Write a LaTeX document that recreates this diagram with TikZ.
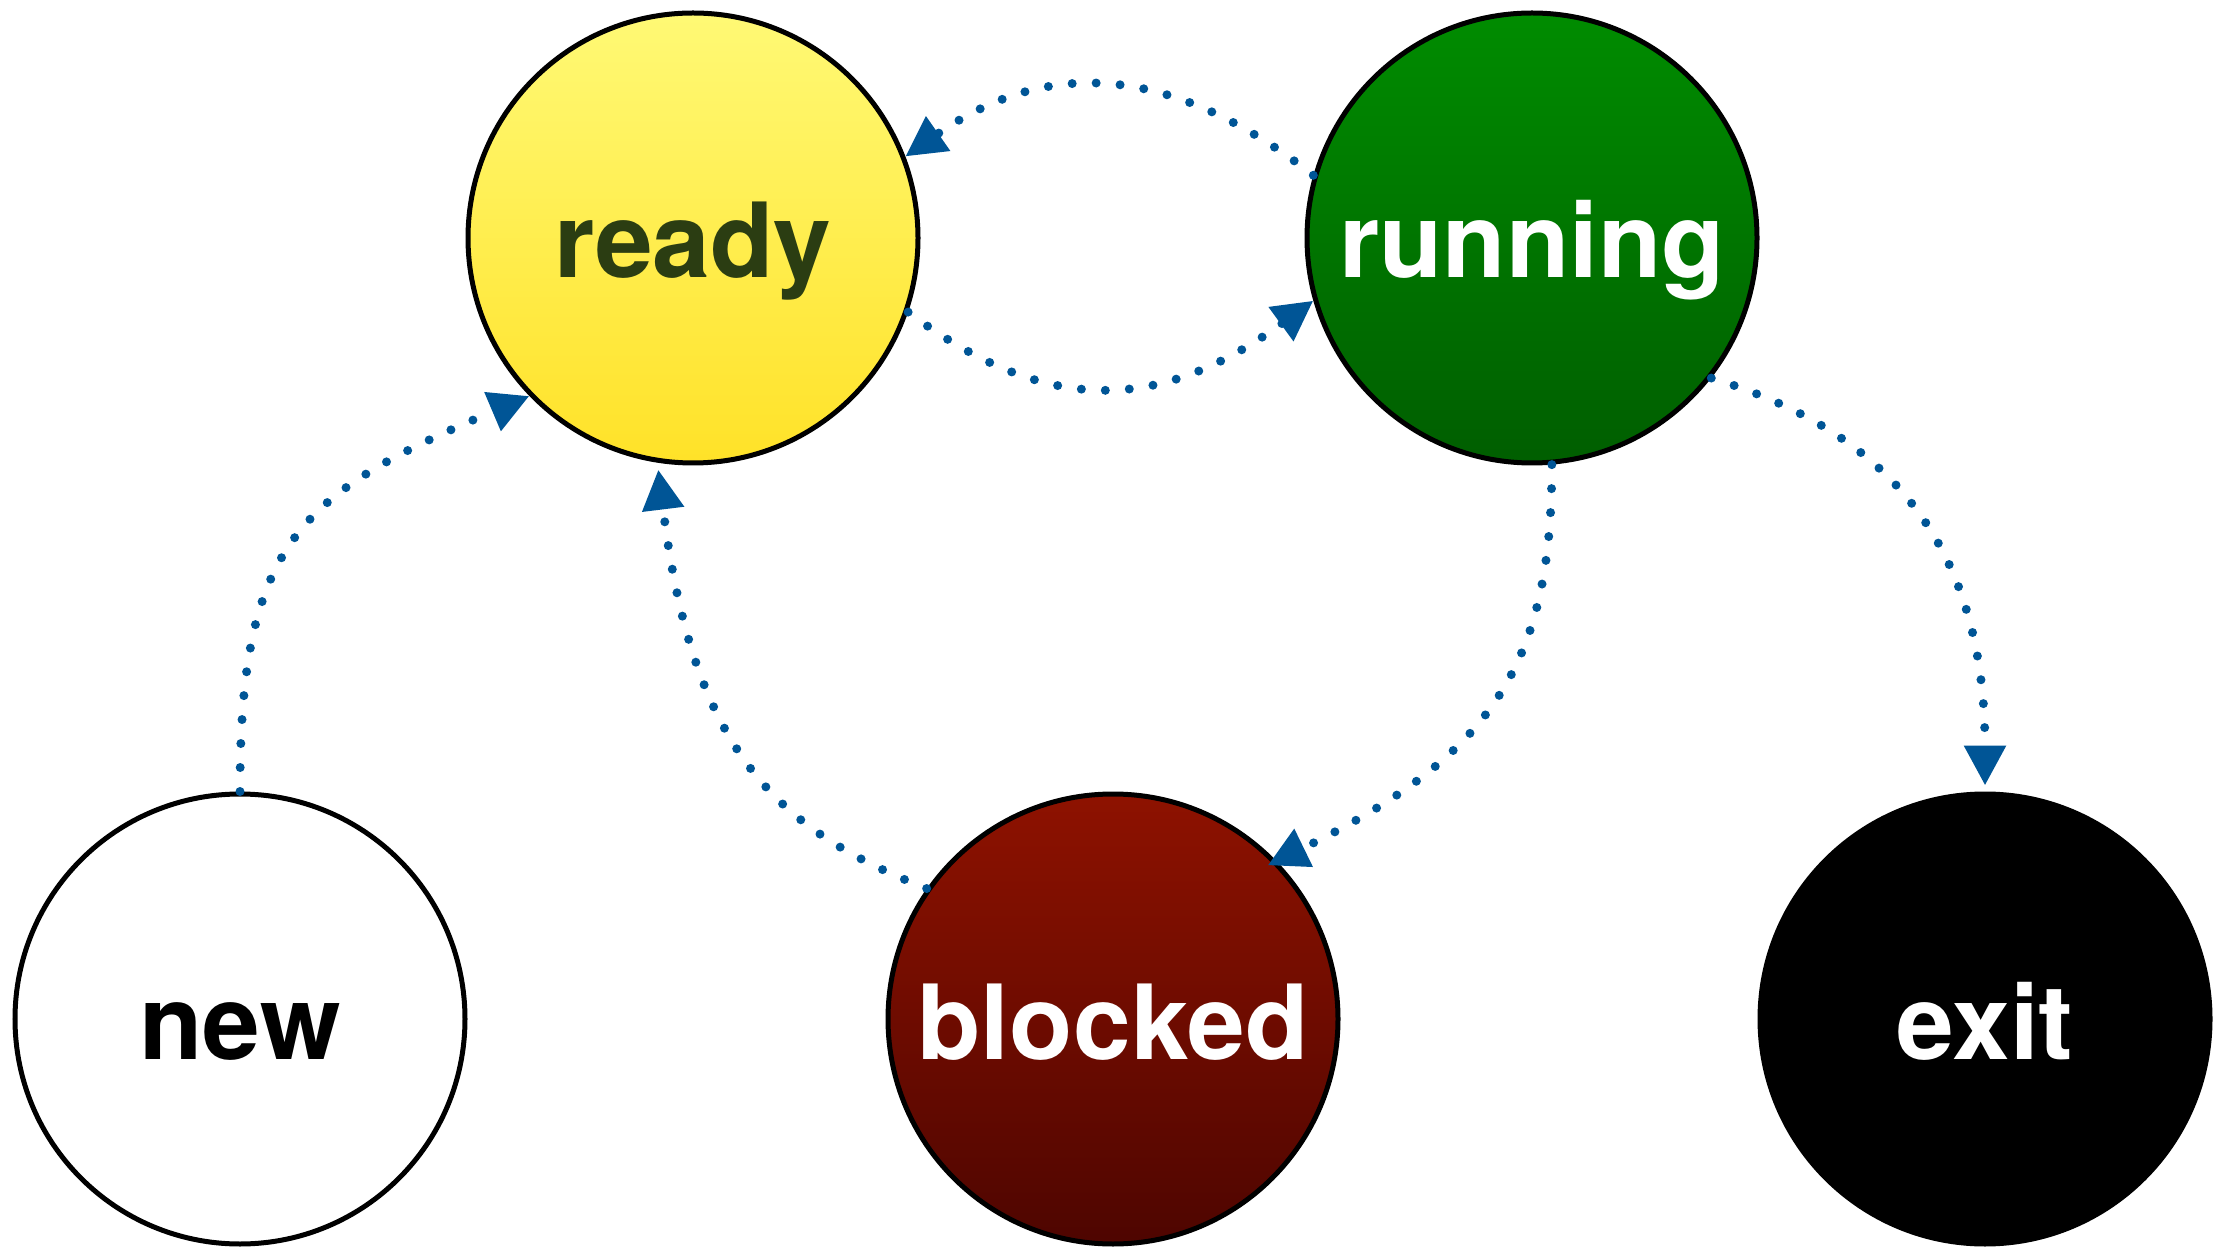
\documentclass[tikz,border=0pt]{standalone}
\usepackage{fontspec}
\setmainfont{TeX Gyre Heros}
\usetikzlibrary{arrows.meta}
\definecolor{arrowblue}{HTML}{005596}
\definecolor{readytop}{HTML}{FFF975}
\definecolor{readybot}{HTML}{FFE228}
\definecolor{readytext}{HTML}{2B3D12}
\definecolor{runtop}{HTML}{008C00}
\definecolor{runbot}{HTML}{005E00}
\definecolor{blocktop}{HTML}{8E1200}
\definecolor{blockbot}{HTML}{4E0500}
\tikzset{
  statenode/.style={circle, draw=black, line width=0.05cm, minimum size=4.5cm, inner sep=0pt,
    font=\fontsize{29.5}{35}\selectfont\bfseries, text height=1.0cm, text depth=0.2cm},
  trans/.style={draw=arrowblue, line width=0.09cm, line cap=round,
    dash pattern=on 0pt off 0.24cm,
    -{Triangle[length=0.4cm,width=0.4cm]}}
}
\begin{document}
\begin{tikzpicture}
\useasboundingbox (0,0) rectangle (22.2,-12.48);
\node[statenode, top color=readytop, bottom color=readybot, text=readytext] (ready) at (6.93,-2.38) {ready};
\node[statenode, top color=runtop, bottom color=runbot, text=white] (running) at (15.32,-2.38) {running};
\node[statenode, fill=white, text=black] (new) at (2.40,-10.19) {new};
\node[statenode, top color=blocktop, bottom color=blockbot, text=white] (blocked) at (11.13,-10.19) {blocked};
\node[statenode, fill=black, text=white] (exit) at (19.85,-10.19) {exit};

\draw[trans] (running.164) .. controls +(142:1.77) and +(35:1.77) .. (ready.21);
\draw[trans] (ready.-19) .. controls +(-37:1.82) and +(216:1.82) .. (running.196);
\draw[trans] (new.90) .. controls +(90:2.5) and +(203:2.5) .. (ready.224);
\draw[trans, shorten >=0.07cm] (blocked.145) .. controls +(158.6:1.64) and +(277:2.88) .. (ready.261);
\draw[trans, shorten >=-0.1cm] (running.275) .. controls +(-90:2.0) and +(26:2.4) .. (blocked.44);
\draw[trans, shorten >=0.06cm] (running.-38.6) .. controls +(-17:1.52) and +(90:2.76) .. (exit.90);
\end{tikzpicture}
\end{document}
